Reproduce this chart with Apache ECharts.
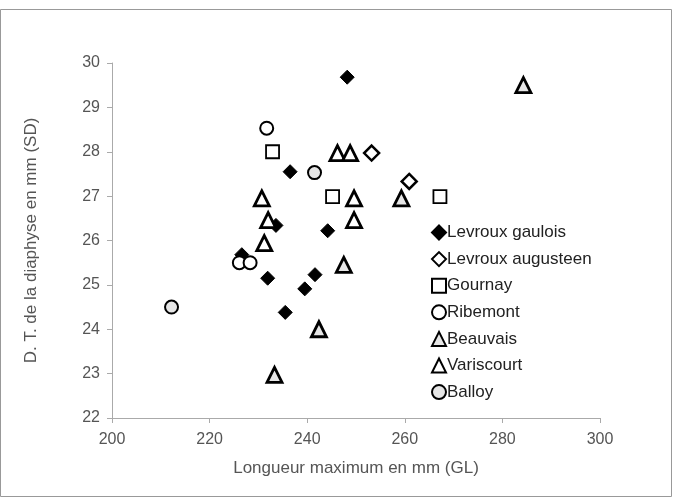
<!DOCTYPE html>
<html><head><meta charset="utf-8">
<script src="https://cdn.jsdelivr.net/npm/echarts@6/dist/echarts.min.js"></script>
<style>html,body{margin:0;padding:0;background:#fff}#c{width:678px;height:497px}</style>
</head><body><div id="c"></div>
<script>
const levrouxGaulois = [[248.2,29.68],[236.5,27.55],[233.6,26.34],[244.2,26.22],[226.6,25.68],[231.9,25.15],[241.6,25.23],[239.5,24.91],[235.5,24.38]];
const levrouxAugusteen = [[253.2,27.97],[260.9,27.33]];
const gournay = [[232.9,28.0],[245.2,26.99],[267.2,26.99]];
const ribemont = [[231.7,28.53],[226.1,25.5],[228.3,25.5]];
const beauvais = [[284.3,29.5],[259.3,26.95],[247.5,25.45],[242.4,24.0],[233.3,22.97]];
const variscourt = [[246.2,27.97],[248.8,27.97],[230.7,26.95],[232.0,26.46],[231.2,25.94],[249.6,26.95],[249.6,26.46]];
const balloy = [[241.5,27.53],[212.2,24.5]];
const xName = 'Longueur maximum en mm (GL)';
const yName = 'D. T. de la diaphyse en mm (SD)';

const chart = echarts.init(document.getElementById('c'), null, {renderer:'canvas'});
const font = 'Liberation Sans, Arial, sans-serif';
function s(name, data, symbol, size, fill, bw){
  return {name, type:'scatter', data, symbol, symbolSize:size,
    itemStyle:{color:fill, borderColor:'#000', borderWidth:bw, opacity:1}, z: 3};
}
chart.setOption({
  animation:false,
  backgroundColor:'#fff',
  graphic:[{type:'rect', shape:{x:0.5,y:9.5,width:671,height:487}, style:{fill:'none', stroke:'#999', lineWidth:1}, silent:true}],
  grid:{left:112, right:78, top:63, bottom:79},
  xAxis:{type:'value', min:200, max:300, interval:20,
    name:xName, nameLocation:'middle', nameGap:42,
    nameTextStyle:{color:'#555', fontSize:17, fontFamily:font},
    axisLine:{lineStyle:{color:'#aaa'}}, axisTick:{show:true, length:5, lineStyle:{color:'#aaa'}},
    axisLabel:{color:'#555', fontSize:16, fontFamily:font, margin:14}, splitLine:{show:false}},
  yAxis:{type:'value', min:22, max:30, interval:1,
    name:yName, nameLocation:'middle', nameGap:72, nameRotate:90,
    nameTextStyle:{color:'#555', fontSize:17, fontFamily:font},
    axisLine:{show:true, lineStyle:{color:'#aaa'}}, axisTick:{show:true, length:5, lineStyle:{color:'#aaa'}},
    axisLabel:{color:'#555', fontSize:16, fontFamily:font, margin:12}, splitLine:{show:false}},
  legend:{orient:'vertical', left:426, top:219, itemWidth:14, itemHeight:14, itemGap:9.6,
    textStyle:{color:'#222', fontSize:17, fontFamily:font, padding:[0,0,0,-4]},
    data:['Levroux gaulois','Levroux augusteen','Gournay','Ribemont','Beauvais','Variscourt','Balloy']},
  series:[
    s('Levroux gaulois', levrouxGaulois, 'diamond', [14,14], '#000', 1),
    s('Levroux augusteen', levrouxAugusteen, 'diamond', [15,15], '#fff', 2.5),
    s('Gournay', gournay, 'rect', 13, '#fff', 1.8),
    s('Ribemont', ribemont, 'circle', 13, '#fff', 2),
    s('Beauvais', beauvais, 'triangle', [15,15], '#e6e6e6', 2.8),
    s('Variscourt', variscourt, 'triangle', [15,15], '#fff', 2.8),
    s('Balloy', balloy, 'circle', 13, '#e6e6e6', 2)
  ]
});
</script></body></html>
